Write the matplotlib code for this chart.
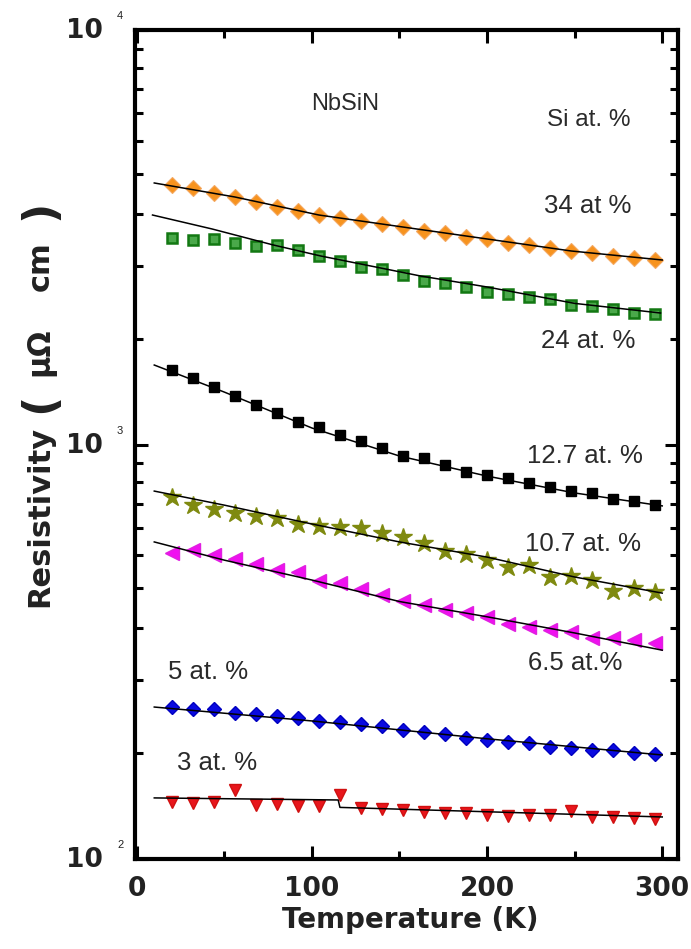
import numpy as np
import matplotlib
matplotlib.use("Agg")
import matplotlib.pyplot as plt
from matplotlib.ticker import FixedLocator, NullFormatter
from matplotlib.transforms import blended_transform_factory

plt.rcParams['font.family'] = ['Liberation Sans', 'DejaVu Sans']

# ---------------- data ----------------
T = [20, 32, 44, 56, 68, 80, 92, 104, 116, 128, 140, 152,
     164, 176, 188, 200, 212, 224, 236, 248, 260, 272, 284, 296]

rho_34 = [4228, 4157, 4045, 3955, 3846, 3741, 3659, 3578, 3519, 3461, 3404, 3347,
          3274, 3238, 3167, 3132, 3063, 3029, 2979, 2930, 2897, 2850, 2818, 2787]
rho_24 = [3149, 3114, 3132, 3063, 3012, 3029, 2946, 2850, 2772, 2681, 2651, 2564,
          2480, 2452, 2399, 2333, 2307, 2269, 2244, 2171, 2158, 2123, 2076, 2065]
rho_127 = [1512, 1447, 1376, 1309, 1245, 1191, 1133, 1102, 1054, 1020, 981, 938,
           928, 892, 858, 844, 830, 807, 790, 772, 764, 739, 731, 714]
rho_107 = [747, 714, 699, 683, 672, 665, 643, 636, 632, 629, 612, 598,
           579, 554, 544, 526, 506, 512, 479, 482, 471, 443, 451, 441]
rho_65 = [547, 557, 541, 529, 515, 498, 493, 469, 463, 448, 434, 419,
          410, 399, 392, 384, 369, 363, 357, 353, 341, 341, 338, 332]
rho_5 = [232.6, 230.1, 230.1, 225.0, 223.8, 221.3, 218.9, 215.3, 214.1, 211.8, 209.4, 204.8,
         202.5, 200.3, 195.9, 193.7, 191.6, 190.5, 186.3, 185.3, 183.2, 183.2, 180.2, 179.2]
rho_3 = [137.3, 136.5, 137.3, 146.7, 135.0, 135.7, 134.2, 134.2, 142.7, 132.7, 132.0, 131.3,
         129.8, 129.1, 129.1, 127.7, 127.0, 127.7, 127.7, 130.6, 126.3, 126.3, 125.6, 124.9]

# fitted curves
Tfit_34 = [10, 56, 104, 152, 200, 248, 300]
fit_34 = [4275, 3955, 3578, 3347, 3132, 2930, 2787]
Tfit_24 = [9, 43, 78, 105, 162, 200, 250, 299]
fit_24 = [3578, 3311, 3029, 2850, 2550, 2399, 2190, 2076]
Tfit_127 = [10, 50, 100, 150, 200, 250, 300]
fit_127 = [1555, 1338, 1096, 938, 839, 764, 711]
Tfit_107 = [10, 50, 100, 150, 200, 250, 300]
fit_107 = [772, 714, 643, 582, 535, 479, 438]
Tfit_65 = [10, 50, 100, 150, 200, 250, 300]
fit_65 = [582, 526, 471, 418, 384, 351, 319]
Tfit_5 = [10, 100, 200, 300]
fit_5 = [232.6, 215.3, 195.0, 178.2]
Tfit_3 = [10, 115, 116, 300]
fit_3 = [140.4, 138.8, 133.2, 126.3]

labels = ["34 at %", "24 at. %", "12.7 at. %", "10.7 at. %", "6.5 at.%", "5 at. %", "3 at. %"]

# ---------------- figure ----------------
fig = plt.figure(figsize=(6.91, 9.49), dpi=100)
ax = fig.add_axes([135/691, 1-859/949, (678-135)/691, (859-30)/949])

ax.set_yscale('log')
ax.set_xlim(-1, 309)
ax.set_ylim(100, 10000)

lw = 1.1
for tf, ff in [(Tfit_34, fit_34), (Tfit_24, fit_24), (Tfit_127, fit_127),
               (Tfit_107, fit_107), (Tfit_65, fit_65), (Tfit_5, fit_5), (Tfit_3, fit_3)]:
    ax.plot(tf, ff, color='black', lw=lw, zorder=3)

ax.plot(T, rho_34, ls='none', marker='D', ms=8, mfc='#f7931e', mec='#f4a860', mew=0.8, zorder=2)
ax.plot(T, rho_24, ls='none', marker='s', ms=7.5, mfc='#4aa84a', mec='#127812', mew=1.8, zorder=2)
ax.plot(T, rho_127, ls='none', marker='s', ms=7.5, mfc='black', mec='black', zorder=2)
ax.plot(T, rho_107, ls='none', marker='*', ms=13.5, mfc='#7f8a10', mec='#7f8a10', zorder=2)
ax.plot(T, rho_65, ls='none', marker='<', ms=10, mfc='#f010f0', mec='#e020e0', zorder=2)
ax.plot(T, rho_5, ls='none', marker='D', ms=7.5, mfc='#0a0ae0', mec='#0000c0', zorder=2)
ax.plot(T, rho_3, ls='none', marker='v', ms=8, mfc='#e8161c', mec='#d01010', zorder=2)

# ---------------- ticks / spines ----------------
for s in ax.spines.values():
    s.set_linewidth(3)

ax.xaxis.set_major_locator(FixedLocator([0, 100, 200, 300]))
ax.xaxis.set_minor_locator(FixedLocator([50, 150, 250]))
ymin = [0.9 * k * 10 ** e for e in [1, 2, 3] for k in range(2, 11) if 100 <= 0.9 * k * 10 ** e <= 10000]
ax.yaxis.set_major_locator(FixedLocator([100, 1000, 10000]))
ax.yaxis.set_minor_locator(FixedLocator(ymin))
ax.yaxis.set_major_formatter(NullFormatter())
ax.yaxis.set_minor_formatter(NullFormatter())

ax.tick_params(which='both', direction='in', top=True, right=True, width=2.2)
ax.tick_params(which='major', length=9.5)
ax.tick_params(which='minor', length=5.5)
ax.tick_params(axis='x', which='major', labelsize=19, pad=12)
for lab in ax.get_xticklabels():
    lab.set_fontweight('bold')
    lab.set_family('DejaVu Sans')
    lab.set_color('#222222')

# y tick labels 10^n
tr = blended_transform_factory(ax.transAxes, ax.transData)
for v, ex in [(100, '2'), (1000, '3'), (10000, '4')]:
    ax.annotate('10', xy=(0, v), xycoords=tr, xytext=(-23, -1), textcoords='offset points',
                ha='right', va='center', fontsize=19, fontweight='bold', family='DejaVu Sans',
                color='#222222', annotation_clip=False)
    ax.annotate(ex, xy=(0, v), xycoords=tr, xytext=(-13, 10), textcoords='offset points',
                ha='left', va='center', fontsize=8, color='#222222', annotation_clip=False)

# axis labels
lc = '#222222'
fig.text(410/691, 1-920/949, 'Temperature (K)', ha='center', va='center',
         fontsize=20, fontweight='bold', family='DejaVu Sans', color=lc)
ylab_kw = dict(ha='center', va='center', rotation=90, fontweight='bold',
               family='DejaVu Sans', color=lc)
fig.text(40/691, 1-516/949, 'Resistivity', fontsize=22, **ylab_kw)
fig.text(40/691, 1-403/949, '(', fontsize=32, **ylab_kw)
fig.text(40/691, 1-352/949, '\u03bc\u03a9', fontsize=22, **ylab_kw)
fig.text(40/691, 1-266/949, 'cm', fontsize=22, **ylab_kw)
fig.text(40/691, 1-210/949, ')', fontsize=32, **ylab_kw)

# annotations
tc = '#2a2a2a'
ax.text(118.9, 6630, 'NbSiN', ha='center', va='center', fontsize=17, color=tc)
ax.text(258, 6066, 'Si at. %', ha='center', va='center', fontsize=17.5, color=tc)
fs = 18.5
ax.text(257.7, 3762, labels[0], ha='center', va='center', fontsize=fs, color=tc)
ax.text(257.7, 1777, labels[1], ha='center', va='center', fontsize=fs, color=tc)
ax.text(256, 938, labels[2], ha='center', va='center', fontsize=fs, color=tc)
ax.text(254.9, 575, labels[3], ha='center', va='center', fontsize=fs, color=tc)
ax.text(250.3, 297, labels[4], ha='center', va='center', fontsize=fs, color=tc)
ax.text(40.6, 282.7, labels[5], ha='center', va='center', fontsize=fs, color=tc)
ax.text(45.7, 170.4, labels[6], ha='center', va='center', fontsize=fs, color=tc)

fig.savefig('out.png', dpi=100)
